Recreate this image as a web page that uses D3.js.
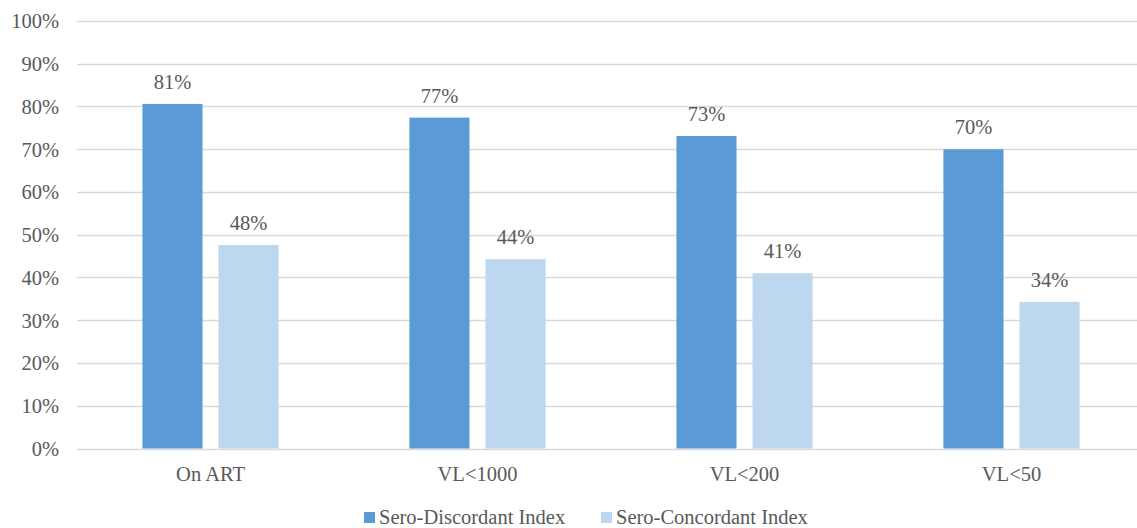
<!DOCTYPE html>
<html>
<head>
<meta charset="utf-8">
<script src="https://cdn.jsdelivr.net/npm/d3@7"></script>
<style>
  html, body { margin: 0; padding: 0; background: #fff; }
  svg { display: block; }
</style>
</head>
<body>
<svg id="chart" width="1137" height="528"></svg>
<script>
// Categories and series (shares, 0–1)
const categories = ["On ART", "VL<1000", "VL<200", "VL<50"];
const seriesNames = ["Sero-Discordant Index", "Sero-Concordant Index"];
const discordant = [0.806, 0.774, 0.731, 0.700];
const concordant = [0.476, 0.443, 0.410, 0.343];
const yTicks = [0, 0.1, 0.2, 0.3, 0.4, 0.5, 0.6, 0.7, 0.8, 0.9, 1.0];
const colors = ["#5B9BD5", "#BDD7EE"];

const FONT = "Liberation Serif";
const FS = "20.5px";
const TXT = "#595959";

const svg = d3.select("#chart");
const margin = { left: 77, right: -8, top: 21, bottom: 79.5 };
const W = 1137, H = 528;

const x = d3.scaleBand()
  .domain(categories)
  .range([margin.left, W - margin.right])
  .paddingInner(0).paddingOuter(0);

const y = d3.scaleLinear().domain([0, 1]).range([H - margin.bottom, margin.top]);

const barW = x.bandwidth() * 0.225;
const gap = 16;

function styleText(sel) {
  sel.style("font-family", FONT)
    .style("font-size", FS)
    .style("fill", TXT);
}

// Gridlines
svg.append("g")
  .selectAll("line")
  .data(yTicks)
  .join("line")
  .attr("x1", margin.left)
  .attr("x2", W - margin.right)
  .attr("y1", d => Math.round(y(d)) + 0.5)
  .attr("y2", d => Math.round(y(d)) + 0.5)
  .attr("stroke", "#D9D9D9")
  .attr("stroke-width", 1.3);

// Y axis labels
const fmt = d3.format(".0%");
const yAxis = d3.axisLeft(y).tickValues(yTicks).tickFormat(fmt).tickSize(0).tickPadding(0);
const yg = svg.append("g").attr("transform", "translate(59,0)").call(yAxis);
yg.attr("font-family", FONT).attr("font-size", FS);
yg.select(".domain").remove();
yg.selectAll("text").call(styleText).attr("dy", "0.34em");

// Bars with value labels
const series = [discordant, concordant];
series.forEach((vals, si) => {
  const g = svg.append("g");
  const xs = i => x(categories[i]) + x.bandwidth() / 2 + (si === 0 ? -gap / 2 - barW : gap / 2);
  g.selectAll("rect")
    .data(vals)
    .join("rect")
    .attr("x", (d, i) => xs(i))
    .attr("y", d => y(d))
    .attr("width", barW)
    .attr("height", d => y(0) - y(d))
    .attr("fill", colors[si]);
  g.selectAll("text")
    .data(vals)
    .join("text")
    .attr("x", (d, i) => xs(i) + barW / 2)
    .attr("y", d => y(d) - 15)
    .attr("text-anchor", "middle")
    .call(styleText)
    .text(d => fmt(d));
});

// X axis labels
const xAxis = d3.axisBottom(x).tickSize(0).tickPadding(0);
const xg = svg.append("g").attr("transform", `translate(0,${y(0)})`).call(xAxis);
xg.attr("font-family", FONT).attr("font-size", FS);
xg.select(".domain").remove();
xg.selectAll("text").call(styleText).attr("dy", null).attr("y", 32);

// Legend
const legendItems = [
  { name: seriesNames[0], color: colors[0], x: 364 },
  { name: seriesNames[1], color: colors[1], x: 601 }
];
const lg = svg.append("g");
legendItems.forEach(it => {
  lg.append("rect")
    .attr("x", it.x).attr("y", 512)
    .attr("width", 11).attr("height", 11)
    .attr("fill", it.color);
  lg.append("text")
    .attr("x", it.x + 15).attr("y", 523.5)
    .call(styleText)
    .text(it.name);
});
</script>
</body>
</html>
